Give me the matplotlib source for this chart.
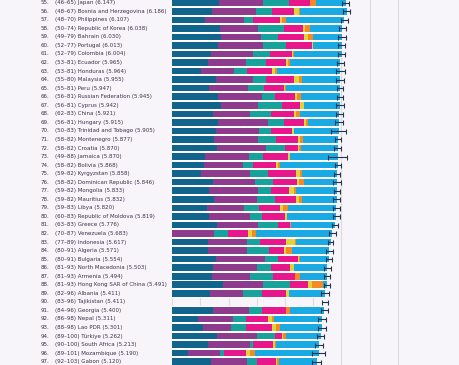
import matplotlib
matplotlib.use("Agg")
import matplotlib.pyplot as plt
import matplotlib.transforms as mtransforms
import numpy as np

ranks = list(range(55, 98))
ranges = ["46–65", "48–67", "48–70", "50–74", "49–79", "52–77", "52–79", "53–81", "53–81", "55–80",
          "55–81", "56–81", "56–81", "62–83", "56–81", "50–83", "58–82", "58–82", "49–88", "58–82",
          "59–82", "58–82", "59–82", "59–82", "59–83", "60–83", "63–83", "70–87", "77–89", "80–91",
          "80–91", "81–93", "81–93", "81–93", "82–96", "83–96", "84–96", "86–98", "88–98", "89–100",
          "90–100", "89–101", "92–103"]
countries = ["Japan", "Bosnia and Herzegovina", "Philippines", "Republic of Korea", "Bahrain",
             "Portugal", "Colombia", "Ecuador", "Honduras", "Malaysia", "Peru", "Russian Federation",
             "Cyprus", "China", "Hungary", "Trinidad and Tobago", "Montenegro", "Croatia", "Jamaica",
             "Bolivia", "Kyrgyzstan", "Dominican Republic", "Mongolia", "Mauritius", "Libya",
             "Republic of Moldova", "Greece", "Venezuela", "Indonesia", "Algeria", "Bulgaria",
             "North Macedonia", "Armenia", "Hong Kong SAR of China", "Albania", "Tajikistan",
             "Georgia", "Nepal", "Lao PDR", "Türkiye", "South Africa", "Mozambique", "Gabon"]
scores = [6.147, 6.186, 6.107, 6.038, 6.030, 6.013, 6.004, 5.965, 5.964, 5.955,
          5.947, 5.945, 5.942, 5.921, 5.915, 5.905, 5.877, 5.870, 5.870, 5.868,
          5.858, 5.846, 5.833, 5.832, 5.820, 5.819, 5.776, 5.683, 5.617, 5.571,
          5.554, 5.503, 5.494, 5.491, 5.411, 5.411, 5.400, 5.311, 5.301, 5.262,
          5.213, 5.190, 5.120]
ci = [0.11, 0.13, 0.13, 0.12, 0.15, 0.12, 0.13, 0.13, 0.15, 0.13,
      0.12, 0.11, 0.15, 0.12, 0.13, 0.27, 0.10, 0.12, 0.33, 0.11,
      0.11, 0.14, 0.11, 0.12, 0.12, 0.13, 0.12, 0.13, 0.10, 0.12,
      0.11, 0.12, 0.11, 0.11, 0.14, 0.10, 0.11, 0.15, 0.14, 0.12,
      0.14, 0.22, 0.16]

gdp = [1.67, 1.40, 1.16, 1.70, 1.73, 1.64, 1.36, 1.28, 1.02, 1.55,
       1.32, 1.61, 1.72, 1.43, 1.64, 1.54, 1.48, 1.60, 1.16, 1.14,
       1.02, 1.43, 1.32, 1.48, 1.22, 1.32, 1.60, 0.00, 1.26, 1.28,
       1.55, 1.43, 1.40, 1.79, 1.34, 0.00, 1.43, 0.93, 1.10, 1.58,
       1.28, 0.55, 1.38]
social = [1.56, 1.56, 1.38, 1.36, 1.41, 1.57, 1.51, 1.34, 1.18, 1.32,
          1.36, 1.56, 1.34, 1.32, 1.74, 1.55, 1.57, 1.73, 1.56, 1.38,
          1.74, 1.50, 1.74, 1.54, 1.32, 1.44, 1.45, 1.48, 1.41, 1.39,
          1.74, 1.56, 1.36, 1.42, 1.16, 0.00, 1.29, 1.22, 1.00, 1.44,
          1.48, 1.15, 1.26]
health = [0.92, 0.59, 0.33, 0.92, 0.60, 0.83, 0.59, 0.71, 0.44, 0.45,
          0.57, 0.48, 0.85, 0.77, 0.59, 0.40, 0.63, 0.66, 0.51, 0.33,
          0.63, 0.63, 0.44, 0.63, 0.54, 0.41, 0.71, 0.51, 0.45, 0.77,
          0.47, 0.53, 0.80, 0.95, 0.69, 0.00, 0.45, 0.47, 0.51, 0.63,
          0.12, 0.12, 0.35]
freedom = [0.73, 0.77, 0.97, 0.67, 0.93, 0.91, 0.78, 0.71, 0.89, 0.99,
           0.72, 0.70, 0.63, 0.79, 0.69, 0.77, 0.77, 0.46, 0.87, 0.83,
           1.00, 0.87, 0.63, 0.74, 0.73, 0.83, 0.41, 0.71, 0.92, 0.53,
           0.71, 0.65, 0.79, 0.67, 0.85, 0.00, 0.86, 0.76, 0.93, 0.24,
           0.69, 0.80, 0.69]
generosity = [0.02, 0.18, 0.07, 0.07, 0.13, 0.03, 0.05, 0.07, 0.12, 0.19,
              0.04, 0.09, 0.12, 0.07, 0.07, 0.06, 0.07, 0.04, 0.07, 0.07,
              0.14, 0.07, 0.20, 0.09, 0.12, 0.06, 0.02, 0.12, 0.33, 0.06,
              0.04, 0.14, 0.02, 0.12, 0.09, 0.00, 0.02, 0.15, 0.13, 0.04,
              0.08, 0.14, 0.02]
corruption = [0.21, 0.02, 0.12, 0.17, 0.18, 0.02, 0.02, 0.05, 0.08, 0.11,
              0.01, 0.14, 0.02, 0.14, 0.07, 0.01, 0.13, 0.07, 0.02, 0.07,
              0.06, 0.17, 0.05, 0.14, 0.19, 0.02, 0.03, 0.15, 0.03, 0.21,
              0.02, 0.02, 0.15, 0.39, 0.02, 0.00, 0.14, 0.09, 0.14, 0.12,
              0.02, 0.18, 0.08]
has_bars = [c != "Tajikistan" for c in countries]

colors = ["#11658c", "#8e3a8d", "#17a39b", "#e8168b", "#ddd53c", "#f48a24", "#19aae3"]
bg = "#f8f5fa"
txt = "#3b2f4a"

fig = plt.figure(figsize=(4.6, 3.65), dpi=100, facecolor=bg)
ax = fig.add_axes([0, 0, 1, 1], facecolor=bg)
n = len(countries)
y = np.arange(n)

x0_px, scale = 172.2, 28.2
ax.set_xlim(-x0_px / scale, (460 - x0_px) / scale)
ax.set_ylim((365 - 2.7) / 8.548, -2.7 / 8.548)
ax.axis("off")

for g in range(0, 9):
    ax.axvline(g, color="#dedae4", lw=0.8, zorder=0)

comps = [gdp, social, health, freedom, generosity, corruption]
for i in range(n):
    if not has_bars[i]:
        continue
    ax.barh(y[i], scores[i], left=0, height=1.0, color="white", linewidth=0, zorder=1)
    parts = [c[i] for c in comps]
    parts.append(scores[i] - sum(parts))
    left = 0.0
    for w, col in zip(parts, colors):
        if w > 0:
            ax.barh(y[i], w, left=left, height=0.77, color=col, linewidth=0, zorder=2)
        left += w

ax.errorbar(scores, y, xerr=ci, fmt="none", ecolor="#22344e", elinewidth=0.8,
            capsize=1.8, capthick=0.8, zorder=3)

trans = mtransforms.blended_transform_factory(fig.transFigure, ax.transData)
for i in range(n):
    ax.text(41 / 460, y[i], f"{ranks[i]}.", transform=trans, ha="left", va="center",
            fontsize=4.0, color=txt, family="DejaVu Sans")
    ax.text(55 / 460, y[i], f"({ranges[i]}) {countries[i]} ({scores[i]:.3f})", transform=trans,
            ha="left", va="center", fontsize=4.0, color=txt, family="DejaVu Sans")

fig.savefig("out.png", dpi=100, facecolor=bg)
